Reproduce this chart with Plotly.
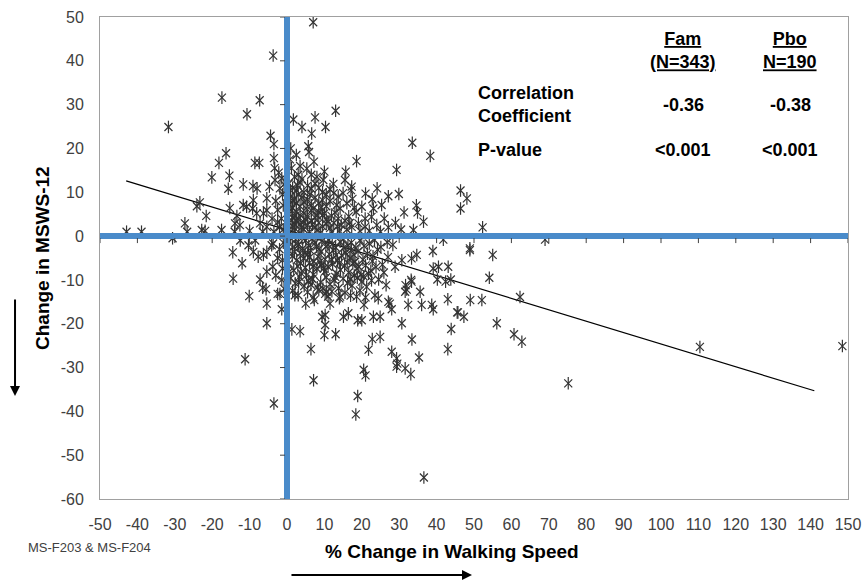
import plotly.graph_objects as go

# ---------------- data ----------------
upper_left = [(-31.7,24.9),(-17.4,31.6),(-7.3,31.0),(-10.7,27.8),(-4.4,22.9),(-3.5,21.0),(-3.7,41.2),
    (-16.3,18.9),(-18.2,16.7),(-8.6,16.7),(-7.4,16.7),(-3.5,17.8),(-3.3,15.5),(-20.1,13.4),(-15.4,13.8),
    (-15.7,10.8),(-11.7,11.8),(-9.1,11.4),(-8.0,10.9),(-4.7,11.3),(-3.2,12.8),(-1.4,13.2),(-1.9,10.9),
    (-5.4,8.6),(-9.0,8.2),(-24.1,6.8),(-23.3,7.7),(-21.6,4.6),(-15.3,6.4),(-13.4,4.6),(-13.9,2.9),
    (-12.6,2.5),(-11.7,7.1),(-10.8,6.7),(-9.2,6.3),(-8.1,5.2),(-6.3,5.2),(-5.4,5.9),(-27.3,2.9),(-7.2,2.9),
    (-5.4,2.1),(-42.9,1.0),(-38.9,1.0),(-22.8,1.4),(-21.9,1.2),(-17.5,1.4),(-26.7,1.0),(-2.5,6.0),(-3.0,8.0),
    (-1.5,4.0),(-2.0,2.0),(-1.0,7.0),(-4.0,4.0),(-3.5,1.0),(-1.0,1.5),(-2.5,3.2),(-6.5,1.0),(-10.0,1.2),
    (-14.0,1.0),(-1.2,9.5),(-2.2,14.5),(-0.8,11.8)]

lower_left = [(-30.6,-0.5),(-14.5,-3.7),(-12.0,-6.2),(-14.4,-9.7),(-10.3,-2.1),(-9.0,-3.6),(-7.7,-4.7),
    (-6.3,-4.3),(-5.4,-3.6),(-4.1,-2.1),(-3.7,-1.7),(-3.8,-7.0),(-5.4,-8.1),(-7.2,-9.9),(-6.5,-11.8),
    (-5.6,-12.1),(-10.1,-13.7),(-5.4,-15.4),(-2.5,-13.2),(-1.9,-13.2),(-1.4,-16.7),(-5.4,-19.9),
    (-11.2,-28.1),(-3.5,-38.2),(-1.2,-5.5),(-1.2,-7.4),(-1.4,-10.0),(-2.0,-3.0),(-1.0,-1.5),(-2.5,-5.0),
    (-0.8,-12.0),(-3.0,-9.0),(-8.5,-1.0),(-12.5,-1.0)]

upper_right = [(7.0,48.8),(13.0,28.6),(7.5,27.1),(1.7,26.6),(4.0,24.9),(6.6,23.4),(10.3,24.9),(5.7,20.5),
    (5.9,19.2),(7.2,17.0),(5.3,15.4),(18.6,17.1),(33.5,21.3),(38.3,18.3),(29.3,15.1),(15.7,14.7),(10.0,14.7),
    (15.5,12.8),(17.3,11.3),(17.1,10.5),(9.7,12.8),(12.4,11.9),(24.1,10.9),(21.0,9.7),(27.1,9.1),(29.9,9.6),
    (22.8,8.4),(25.3,7.1),(31.3,5.4),(34.6,7.0),(34.9,5.4),(36.5,3.3),(33.8,1.4),(27.1,2.0),(46.4,10.4),
    (48.1,8.6),(46.4,6.3),(52.3,2.0),(20.0,6.7),(23.1,6.3),(20.9,4.0),(22.6,4.4),(13.7,9.0),(13.3,7.1),
    (14.2,6.3),(11.9,4.6),(13.7,4.0),(19.1,2.9),(20.9,2.1),(17.3,2.1)]

core_upper = [(0.5,12.0),(1.5,11.0),(2.5,10.5),(3.5,12.2),(1.0,9.0),(2.0,8.5),(3.0,9.5),(4.5,10.0),
    (5.5,11.5),(6.5,10.8),(7.5,12.0),(8.5,11.0),(9.5,10.0),(10.5,9.5),(11.5,10.7),(0.5,7.0),(1.5,6.5),
    (2.5,7.5),(3.5,6.8),(4.5,7.8),(5.5,8.3),(6.5,7.0),(7.5,8.8),(8.5,7.5),(9.5,8.2),(10.5,6.8),(11.5,8.0),
    (12.5,9.8),(0.5,5.0),(1.5,4.2),(2.5,5.5),(3.5,4.8),(4.5,5.2),(5.5,4.5),(6.5,5.8),(7.5,4.2),(8.5,5.5),
    (9.5,4.8),(10.5,3.8),(0.5,3.0),(1.5,2.3),(2.5,3.5),(3.5,2.8),(4.5,3.2),(5.5,2.5),(6.5,3.5),(7.5,2.0),
    (8.5,3.0),(9.5,2.2),(10.5,2.8),(11.5,1.8),(12.5,3.0),(14.5,2.5),(15.5,3.5),(16.5,4.5),(0.8,1.0),
    (2.0,1.2),(3.2,0.8),(4.5,1.5),(6.0,1.0),(8.0,1.3),(9.0,0.8),(12.0,1.0),(14.0,1.2),(16.0,1.5),(18.5,5.5),
    (16.0,7.5),(17.5,8.5),(15.0,9.8),(18.0,6.5),(24.0,2.5),(26.0,4.0),(29.0,3.0),(30.5,1.5),(25.0,1.0),
    (22.0,1.2),(3.0,14.0),(2.0,13.5),(4.0,13.0),(6.5,14.0),(8.0,13.5),(1.2,15.5),(3.5,16.0),(0.8,17.5),
    (2.5,18.5),(1.0,20.0)]

core_upper_extra = [(1.1,6.0),(2.1,4.6),(3.0,3.9),(1.6,8.0),(0.9,10.5),(2.8,11.6),(4.0,8.9),(5.1,6.4),
    (6.1,9.5),(7.0,6.3),(3.9,2.0),(5.0,3.7),(6.8,2.6),(8.1,4.7),(9.1,6.5),(10.0,5.2),(11.0,3.3),(12.8,5.4),
    (1.3,3.6),(0.3,8.5),(2.2,2.6),(13.5,2.2),(16.8,3.0),(19.5,1.2)]

core_lower = [(0.5,-1.2),(1.5,-2.5),(2.3,-0.8),(3.1,-1.9),(4.2,-2.8),(5.0,-1.0),(5.8,-2.2),(6.7,-0.6),
    (7.5,-1.6),(8.6,-2.9),(9.3,-1.1),(10.4,-2.4),(11.2,-0.9),(12.1,-1.8),(13.0,-2.6),(14.2,-1.3),(15.1,-0.7),
    (16.3,-2.1),(17.2,-1.5),(18.4,-2.7),(19.5,-1.0),(20.6,-2.3),(22.0,-1.7),(23.4,-0.9),(25.1,-2.5),
    (26.8,-1.4),(28.3,-2.0),
    (0.6,-3.4),(1.4,-4.6),(2.6,-5.5),(3.5,-3.9),(4.4,-5.1),(5.5,-4.2),(6.3,-3.3),(7.2,-5.8),(8.3,-4.7),
    (9.1,-3.6),(10.2,-5.3),(11.3,-4.1),(12.4,-3.2),(13.5,-5.6),(14.6,-4.4),(15.7,-3.8),(16.8,-5.0),
    (17.9,-4.3),(19.0,-3.5),(20.3,-5.4),(21.5,-4.0),(22.8,-5.7),(24.2,-3.1),(27.0,-4.8),
    (0.5,-6.3),(1.8,-7.8),(2.9,-6.9),(3.8,-8.5),(4.9,-7.2),(6.0,-6.1),(7.1,-8.8),(8.0,-7.4),(9.2,-6.6),
    (10.1,-8.1),(11.0,-7.0),(12.2,-6.4),(13.3,-8.6),(14.3,-7.7),(15.4,-6.8),(16.5,-8.3),(17.6,-6.2),
    (18.7,-7.5),(19.8,-8.9),(21.0,-6.7),(22.4,-7.9),(23.8,-7.1),(25.5,-6.5),(18.0,-9.0),(20.5,-9.2),
    (1.0,-9.6),(2.2,-10.8),(3.3,-9.3),(4.6,-11.4),(5.7,-10.2),(6.8,-9.8),(8.1,-11.7),(9.0,-10.5),
    (10.5,-9.4),(11.5,-11.0),(12.6,-10.0),(13.8,-11.9),(15.0,-9.7),(16.2,-10.7),(17.4,-11.3),(18.8,-9.5),
    (20.0,-10.4),(21.3,-11.6),(22.6,-10.1),(24.5,-9.9),(26.5,-11.2),
    (1.5,-12.5),(3.0,-13.5),(5.5,-12.8),(7.0,-14.0),(8.5,-12.3),(10.2,-13.2),(12.0,-12.6),(14.0,-14.2),
    (15.5,-12.9),(17.0,-13.6),(19.5,-12.4),(21.0,-14.0),(23.5,-13.5),(24.4,-14.2),(2.1,-13.5),(7.3,-14.6),
    (5.0,-15.4),(11.5,-15.4),(10.6,-12.7),(11.0,-13.8),(14.2,-13.8),(18.6,-13.8)]

core_lower_extra = [(1.0,-0.5),(2.0,-3.6),(3.6,-6.2),(4.8,-3.9),(6.0,-4.9),(6.9,-7.0),(7.9,-2.4),(8.8,-5.9),
    (9.8,-7.4),(10.9,-2.0),(11.9,-5.4),(13.1,-4.4),(14.0,-6.1),(15.2,-2.6),(16.1,-6.0),(17.1,-3.2),
    (18.2,-5.9),(19.2,-7.0),(2.9,-2.2),(4.0,-0.4),(5.2,-8.9),(6.4,-11.1),(9.6,-12.0),(12.9,-9.3),
    (3.1,-10.6),(0.4,-8.3),(23.0,-4.6),(25.9,-8.3),(21.8,-8.6),(16.9,-9.8)]

lower_right = [(9.4,-18.4),(10.2,-18.0),(10.2,-20.3),(10.0,-22.6),(13.0,-22.4),(15.1,-18.4),(16.4,-17.6),
    (18.9,-19.2),(20.0,-19.2),(23.1,-18.4),(24.9,-18.4),(20.6,-15.7),(27.1,-15.0),(28.0,-16.7),(27.5,-15.4),
    (32.4,-15.7),(36.0,-15.7),(38.7,-15.7),(39.1,-16.7),(43.0,-14.4),(49.0,-14.6),(52.1,-14.6),(45.7,-17.4),
    (47.3,-18.4),(30.7,-19.9),(56.1,-19.9),(43.9,-21.2),(33.4,-23.6),(43.0,-25.8),(35.3,-27.7),(28.0,-26.4),
    (29.3,-27.9),(29.5,-29.1),(29.3,-29.8),(31.6,-30.2),(33.1,-31.5),(22.8,-23.5),(24.9,-23.0),(21.8,-25.9),
    (20.5,-30.5),(21.0,-31.8),(7.1,-32.9),(6.4,-25.8),(1.3,-21.3),(3.5,-21.7),(18.4,-40.7),(18.9,-36.5),
    (36.6,-55.1),(39.0,-3.4),(48.9,-2.8),(55.0,-4.3),(43.1,-7.0),(40.5,-7.0),(39.1,-7.4),(43.8,-9.9),
    (42.4,-10.4),(40.2,-9.9),(34.7,-4.3),(33.3,-5.1),(30.7,-5.5),(28.9,-7.0),(33.2,-10.0),(31.7,-11.2),
    (31.6,-12.7),(35.6,-12.7),(32.0,-12.2),(33.3,-10.4),(54.1,-9.5),(62.3,-13.9),(60.7,-22.4),(62.8,-24.1),
    (75.2,-33.6),(110.4,-25.3),(148.5,-25.1),(69.0,-0.8),(41.8,-0.8),(48.9,-3.2),(45.5,-17.4)]

trend_x = [-43.0, 141.0]
trend_y = [12.6, -35.3]

x_ticks = list(range(-50, 151, 10))
y_ticks = list(range(-60, 51, 10))
x_ticktext = [str(t) for t in x_ticks]
y_ticktext = [str(t) for t in y_ticks]

table_rows = ["Correlation<br>Coefficient", "P-value"]
fam_vals = ["-0.36", "<0.001"]
pbo_vals = ["-0.38", "<0.001"]

all_pts = (upper_left + lower_left + upper_right + core_upper + core_upper_extra
           + core_lower + core_lower_extra + lower_right)
walk = [p[0] for p in all_pts]
msws = [p[1] for p in all_pts]

FONT = "Arial, Liberation Sans, sans-serif"
BLUE = "#4A8BCA"
MK = "#333333"

fig = go.Figure()
fig.add_trace(go.Scatter(x=trend_x, y=trend_y, mode="lines",
                         line=dict(color="black", width=1.2), hoverinfo="skip"))
fig.add_trace(go.Scatter(x=walk, y=msws, mode="markers",
                         marker=dict(symbol="x-thin-open", size=8, color=MK, line=dict(color=MK, width=1.2))))
fig.add_trace(go.Scatter(x=walk, y=msws, mode="markers",
                         marker=dict(symbol="line-ns-open", size=9, color=MK, line=dict(color=MK, width=1.2))))

shapes = []
# blue reference lines
shapes.append(dict(type="line", xref="x", yref="paper", x0=0, x1=0, y0=0, y1=1,
                   line=dict(color=BLUE, width=6), layer="above"))
shapes.append(dict(type="line", xref="paper", yref="y", x0=0, x1=1, y0=0, y1=0,
                   line=dict(color=BLUE, width=6), layer="above"))
# tick marks on the crossing axes
for t in x_ticks:
    shapes.append(dict(type="line", xref="x", yref="y", x0=t, x1=t, ysizemode="pixel", yanchor=0,
                       y0=-2, y1=-7, line=dict(color="#404040", width=1), layer="above"))
for t in y_ticks:
    shapes.append(dict(type="line", xref="x", yref="y", y0=t, y1=t, xsizemode="pixel", xanchor=0,
                       x0=-2, x1=-7, line=dict(color="#404040", width=1), layer="above"))

ann = []
bold18 = dict(family=FONT, size=18, color="black")
ann.append(dict(x=106, y=42.4, xref="x", yref="y", text="<b><u>Fam</u><br><u>(N=343)</u></b>",
                showarrow=False, font=bold18, align="center", xanchor="center", yanchor="middle"))
ann.append(dict(x=134.5, y=42.4, xref="x", yref="y", text="<b><u>Pbo</u><br><u>N=190</u></b>",
                showarrow=False, font=bold18, align="center", xanchor="center", yanchor="middle"))
row_y = [30.0, 19.6]
for i, r in enumerate(table_rows):
    ann.append(dict(x=50.5, y=row_y[i], xref="x", yref="y", text="<b>" + r + "</b>", showarrow=False,
                    font=bold18, align="left", xanchor="left", yanchor="middle"))
    ann.append(dict(x=106, y=row_y[i], xref="x", yref="y", text="<b>" + fam_vals[i] + "</b>",
                    showarrow=False, font=bold18, xanchor="center", yanchor="middle"))
    ann.append(dict(x=134.5, y=row_y[i], xref="x", yref="y", text="<b>" + pbo_vals[i] + "</b>",
                    showarrow=False, font=bold18, xanchor="center", yanchor="middle"))

ann.append(dict(x=0, y=0.5, xref="paper", yref="paper", xshift=-58, text="<b>Change in MSWS-12</b>",
                textangle=-90, showarrow=False, xanchor="center", yanchor="middle",
                font=dict(family=FONT, size=19, color="black")))
ann.append(dict(x=0.4706, y=0, xref="paper", yref="paper", yshift=-52, text="<b>% Change in Walking Speed</b>",
                showarrow=False, xanchor="center", yanchor="middle",
                font=dict(family=FONT, size=19, color="black")))
ann.append(dict(x=0, y=0, xref="paper", yref="paper", xshift=-74, yshift=-48, xanchor="left", yanchor="middle",
                text="MS-F203 & MS-F204", showarrow=False, font=dict(family=FONT, size=13, color="#404040")))
# arrows
ann.append(dict(x=-0.1136, y=0.2137, xref="paper", yref="paper", text="", showarrow=True,
                ax=0, ay=-98, axref="pixel", ayref="pixel", arrowhead=2, arrowsize=1, arrowwidth=2,
                arrowcolor="black"))
ann.append(dict(x=0.4973, y=-0.1577, xref="paper", yref="paper", text="", showarrow=True,
                ax=-182, ay=0, axref="pixel", ayref="pixel", arrowhead=2, arrowsize=1, arrowwidth=2,
                arrowcolor="black"))

fig.update_layout(
    width=862, height=580,
    margin=dict(l=100, r=14, t=17, b=81),
    paper_bgcolor="white", plot_bgcolor="white",
    showlegend=False,
    shapes=shapes, annotations=ann,
    xaxis=dict(range=[-50, 150], tickmode="array", tickvals=x_ticks, ticktext=x_ticktext,
               showgrid=False, zeroline=False, automargin=False,
               showline=True, mirror=True, linecolor="#A0A0A0", linewidth=1,
               ticks="outside", ticklen=11, tickcolor="rgba(0,0,0,0)",
               tickfont=dict(family=FONT, size=16, color="#404040")),
    yaxis=dict(range=[-60, 50], tickmode="array", tickvals=y_ticks, ticktext=y_ticktext,
               showgrid=False, zeroline=False, automargin=False,
               showline=True, mirror=True, linecolor="#A0A0A0", linewidth=1,
               ticks="outside", ticklen=12, tickcolor="rgba(0,0,0,0)",
               tickfont=dict(family=FONT, size=16, color="#404040")),
)

fig.write_html("out.html")
